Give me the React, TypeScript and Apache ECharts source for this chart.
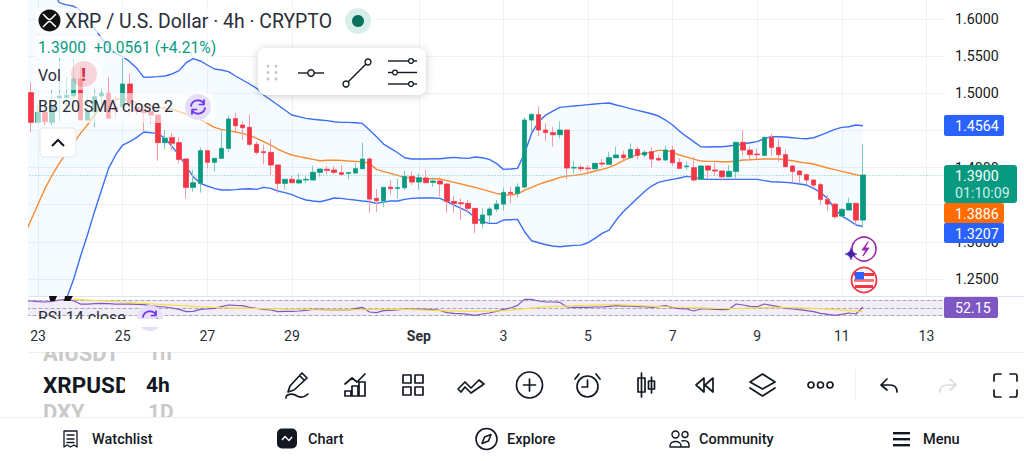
import { useEffect, useRef } from 'react';
import * as echarts from 'echarts';

// 4h bars. First bar sits two bars before Aug 23 00:00.
const opens = [
  1.5150, 1.5009, 1.4609, 1.4744, 1.4609, 1.4941, 1.4946, 1.4964, 1.5193, 1.4641,
  1.4753, 1.4964, 1.5000, 1.4811, 1.4820, 1.5125, 1.4811, 1.4775, 1.4753, 1.4708,
  1.4336, 1.4403, 1.4336, 1.4116, 1.3734, 1.3788, 1.4228, 1.4071, 1.4125, 1.4259,
  1.4659, 1.4573, 1.4542, 1.4313, 1.4214, 1.4205, 1.4035, 1.3788, 1.3842, 1.3793,
  1.3833, 1.3833, 1.3936, 1.3977, 1.3968, 1.3931, 1.3922, 1.3927, 1.3985, 1.4115,
  1.3586, 1.3550, 1.3738, 1.3720, 1.3729, 1.3882, 1.3806, 1.3859, 1.3801, 1.3819,
  1.3779, 1.3545, 1.3527, 1.3518, 1.3451, 1.3249, 1.3361, 1.3442, 1.3509, 1.3666,
  1.3653, 1.3738, 1.4640, 1.4712, 1.4506, 1.4470, 1.4443, 1.4506, 1.3994, 1.4003,
  1.3994, 1.3985, 1.4061, 1.4044, 1.4133, 1.4169, 1.4133, 1.4245, 1.4169, 1.4214,
  1.4124, 1.4102, 1.4236, 1.4070, 1.4012, 1.3999, 1.3841, 1.4021, 1.3967, 1.3954,
  1.3877, 1.3949, 1.4340, 1.4236, 1.4183, 1.4165, 1.4407, 1.4272, 1.4174, 1.4021,
  1.3954, 1.3904, 1.3833, 1.3770, 1.3572, 1.3509, 1.3348, 1.3429, 1.3518, 1.3294,
];
const closes = [
  1.5009, 1.4609, 1.4744, 1.4618, 1.4820, 1.4964, 1.4973, 1.5193, 1.4641, 1.4753,
  1.4955, 1.5000, 1.4663, 1.4775, 1.5125, 1.4865, 1.4766, 1.4739, 1.4708, 1.4336,
  1.4394, 1.4327, 1.4111, 1.3734, 1.3797, 1.4228, 1.4071, 1.4125, 1.4259, 1.4654,
  1.4564, 1.4537, 1.4313, 1.4205, 1.4201, 1.4035, 1.3788, 1.3842, 1.3797, 1.3833,
  1.3842, 1.3936, 1.3981, 1.3963, 1.3936, 1.3909, 1.3931, 1.3985, 1.4115, 1.3577,
  1.3554, 1.3734, 1.3716, 1.3729, 1.3882, 1.3806, 1.3864, 1.3797, 1.3819, 1.3779,
  1.3545, 1.3518, 1.3514, 1.3451, 1.3249, 1.3361, 1.3442, 1.3509, 1.3666, 1.3649,
  1.3738, 1.4640, 1.4716, 1.4506, 1.4470, 1.4443, 1.4506, 1.3994, 1.4003, 1.3985,
  1.3985, 1.4057, 1.4048, 1.4133, 1.4169, 1.4133, 1.4245, 1.4165, 1.4205, 1.4115,
  1.4102, 1.4236, 1.4066, 1.3990, 1.4021, 1.3833, 1.4021, 1.3967, 1.3954, 1.3877,
  1.3949, 1.4340, 1.4236, 1.4174, 1.4174, 1.4407, 1.4272, 1.4174, 1.4012, 1.3949,
  1.3904, 1.3833, 1.3765, 1.3572, 1.3509, 1.3339, 1.3438, 1.3518, 1.3294, 1.3900,
];
const lows = [
  1.4950, 1.4475, 1.4600, 1.4573, 1.4573, 1.4618, 1.4730, 1.4910, 1.4641, 1.4641,
  1.4542, 1.4775, 1.4650, 1.4677, 1.4820, 1.4708, 1.4708, 1.4484, 1.4587, 1.4093,
  1.4246, 1.4237, 1.4057, 1.3586, 1.3676, 1.3663, 1.3990, 1.3945, 1.4125, 1.4214,
  1.4497, 1.4371, 1.4282, 1.4178, 1.4044, 1.3900, 1.3654, 1.3707, 1.3788, 1.3788,
  1.3788, 1.3833, 1.3878, 1.3914, 1.3914, 1.3886, 1.3841, 1.3922, 1.3985, 1.3393,
  1.3406, 1.3465, 1.3631, 1.3581, 1.3698, 1.3765, 1.3698, 1.3788, 1.3743, 1.3608,
  1.3393, 1.3393, 1.3294, 1.3384, 1.3115, 1.3182, 1.3258, 1.3406, 1.3420, 1.3518,
  1.3599, 1.3720, 1.4483, 1.4425, 1.4357, 1.4281, 1.4393, 1.3841, 1.3922, 1.3945,
  1.3931, 1.3967, 1.4012, 1.4034, 1.4124, 1.4093, 1.4124, 1.4115, 1.4133, 1.4003,
  1.4088, 1.4088, 1.4021, 1.3990, 1.3967, 1.3810, 1.3841, 1.3855, 1.3886, 1.3824,
  1.3868, 1.3855, 1.4169, 1.4115, 1.4115, 1.4165, 1.4160, 1.4079, 1.4003, 1.3797,
  1.3788, 1.3779, 1.3734, 1.3496, 1.3420, 1.3312, 1.3339, 1.3429, 1.3227, 1.3195,
];
const highs = [
  1.5200, 1.5148, 1.4843, 1.4910, 1.5044, 1.5493, 1.5224, 1.5448, 1.5359, 1.4955,
  1.5080, 1.5080, 1.5215, 1.4955, 1.5484, 1.5260, 1.4820, 1.4820, 1.4798, 1.4708,
  1.4506, 1.4470, 1.4407, 1.4116, 1.3968, 1.4273, 1.4228, 1.4125, 1.4515, 1.4699,
  1.4739, 1.4618, 1.4717, 1.4349, 1.4313, 1.4380, 1.4035, 1.3842, 1.3887, 1.3923,
  1.3900, 1.4026, 1.3981, 1.4021, 1.4021, 1.4034, 1.3945, 1.4066, 1.4335, 1.4138,
  1.3711, 1.3734, 1.3833, 1.3855, 1.3958, 1.3945, 1.3922, 1.3967, 1.3868, 1.3868,
  1.3779, 1.3617, 1.3586, 1.3563, 1.3451, 1.3451, 1.3474, 1.3563, 1.3734, 1.3743,
  1.3788, 1.4676, 1.4730, 1.4829, 1.4595, 1.4550, 1.4618, 1.4506, 1.4088, 1.4034,
  1.4034, 1.4057, 1.4115, 1.4214, 1.4281, 1.4227, 1.4326, 1.4281, 1.4236, 1.4272,
  1.4169, 1.4295, 1.4295, 1.4124, 1.4079, 1.4147, 1.4034, 1.4034, 1.4079, 1.3967,
  1.4034, 1.4349, 1.4506, 1.4281, 1.4259, 1.4416, 1.4452, 1.4384, 1.4245, 1.4034,
  1.3967, 1.3922, 1.3841, 1.3797, 1.3631, 1.3509, 1.3451, 1.3599, 1.3527, 1.4317,
];

const bbUpper = [
  1.7000, 1.6900, 1.6750, 1.6600, 1.6400, 1.6220, 1.6190, 1.6175, 1.6112, 1.6009,
  1.5875, 1.5740, 1.5628, 1.5538, 1.5493, 1.5426, 1.5336, 1.5215, 1.5219, 1.5224,
  1.5233, 1.5260, 1.5305, 1.5412, 1.5466, 1.5435, 1.5381, 1.5327, 1.5314, 1.5291,
  1.5233, 1.5179, 1.5125, 1.5067, 1.4977, 1.4910, 1.4843, 1.4775, 1.4708, 1.4686,
  1.4663, 1.4650, 1.4641, 1.4632, 1.4618, 1.4609, 1.4609, 1.4604, 1.4595, 1.4506,
  1.4416, 1.4317, 1.4259, 1.4200, 1.4133, 1.4115, 1.4115, 1.4115, 1.4120, 1.4120,
  1.4129, 1.4138, 1.4129, 1.4124, 1.4142, 1.4133, 1.4111, 1.4057, 1.3976, 1.3981,
  1.3990, 1.4191, 1.4461, 1.4618, 1.4707, 1.4761, 1.4811, 1.4820, 1.4829, 1.4838,
  1.4847, 1.4856, 1.4865, 1.4869, 1.4842, 1.4820, 1.4793, 1.4770, 1.4748, 1.4725,
  1.4694, 1.4640, 1.4573, 1.4488, 1.4416, 1.4349, 1.4281, 1.4277, 1.4281, 1.4281,
  1.4290, 1.4304, 1.4317, 1.4335, 1.4349, 1.4389, 1.4416, 1.4416, 1.4411, 1.4402,
  1.4393, 1.4389, 1.4402, 1.4438, 1.4474, 1.4515, 1.4541, 1.4550, 1.4573, 1.4564,
];
const bbBasis = [
  1.3079, 1.3295, 1.3510, 1.3721, 1.3900, 1.4057, 1.4192, 1.4318, 1.4461, 1.4573,
  1.4708, 1.4829, 1.4887, 1.4919, 1.4928, 1.4901, 1.4865, 1.4838, 1.4820, 1.4807,
  1.4798, 1.4784, 1.4753, 1.4721, 1.4686, 1.4650, 1.4596, 1.4542, 1.4515, 1.4497,
  1.4479, 1.4461, 1.4430, 1.4394, 1.4349, 1.4304, 1.4250, 1.4205, 1.4170, 1.4147,
  1.4129, 1.4111, 1.4093, 1.4098, 1.4098, 1.4097, 1.4088, 1.4084, 1.4079, 1.4057,
  1.3976, 1.3945, 1.3922, 1.3895, 1.3868, 1.3864, 1.3855, 1.3850, 1.3850, 1.3846,
  1.3824, 1.3801, 1.3779, 1.3756, 1.3734, 1.3707, 1.3680, 1.3653, 1.3635, 1.3631,
  1.3644, 1.3698, 1.3734, 1.3774, 1.3806, 1.3833, 1.3868, 1.3886, 1.3895, 1.3909,
  1.3927, 1.3954, 1.3976, 1.4003, 1.4044, 1.4093, 1.4133, 1.4178, 1.4191, 1.4209,
  1.4232, 1.4232, 1.4205, 1.4169, 1.4142, 1.4115, 1.4088, 1.4084, 1.4084, 1.4079,
  1.4079, 1.4088, 1.4102, 1.4106, 1.4111, 1.4115, 1.4115, 1.4115, 1.4106, 1.4093,
  1.4075, 1.4061, 1.4048, 1.4021, 1.3994, 1.3972, 1.3949, 1.3927, 1.3904, 1.3886,
];
const bbLower = [
  1.1200, 1.1300, 1.1400, 1.1600, 1.1800, 1.2000, 1.2227, 1.2487, 1.2801, 1.3093,
  1.3407, 1.3698, 1.3990, 1.4170, 1.4304, 1.4349, 1.4407, 1.4479, 1.4470, 1.4457,
  1.4394, 1.4282, 1.4170, 1.4013, 1.3878, 1.3788, 1.3752, 1.3721, 1.3698, 1.3698,
  1.3703, 1.3712, 1.3716, 1.3707, 1.3734, 1.3721, 1.3685, 1.3663, 1.3636, 1.3595,
  1.3564, 1.3550, 1.3541, 1.3564, 1.3591, 1.3586, 1.3572, 1.3563, 1.3550, 1.3541,
  1.3518, 1.3536, 1.3550, 1.3550, 1.3572, 1.3586, 1.3590, 1.3590, 1.3590, 1.3586,
  1.3541, 1.3496, 1.3451, 1.3406, 1.3325, 1.3272, 1.3249, 1.3249, 1.3294, 1.3299,
  1.3303, 1.3137, 1.3016, 1.2989, 1.2962, 1.2944, 1.2935, 1.2944, 1.2953, 1.2957,
  1.2989, 1.3047, 1.3115, 1.3159, 1.3294, 1.3406, 1.3496, 1.3586, 1.3675, 1.3752,
  1.3801, 1.3824, 1.3841, 1.3860, 1.3882, 1.3868, 1.3850, 1.3841, 1.3841, 1.3841,
  1.3841, 1.3841, 1.3841, 1.3841, 1.3841, 1.3824, 1.3810, 1.3806, 1.3801, 1.3792,
  1.3779, 1.3765, 1.3720, 1.3662, 1.3586, 1.3442, 1.3348, 1.3294, 1.3227, 1.3207,
];

const rsi = [
  67.5, 67.5, 65.8, 65, 66.6, 70, 71.7, 68.3, 59.8, 59.8,
  60.7, 61.5, 60.7, 59.8, 59.8, 59.8, 59, 58.1, 55.6, 53,
  52.2, 49.7, 46.3, 40.3, 41.2, 46.3, 47.1, 48.8, 53, 57.3,
  56.4, 55.6, 51.4, 48.8, 46.3, 44.6, 40.3, 41.2, 41.2, 42,
  43.7, 46.3, 46.3, 45.4, 44.6, 44.6, 44.6, 48, 51.4, 39.5,
  37.8, 42.9, 43.7, 44.6, 47.1, 46.3, 47.1, 46.3, 45.4, 43.7,
  37.8, 36, 35.2, 33.5, 31, 34.4, 36.9, 41.2, 46.3, 49.6,
  56.4, 71.7, 71.7, 67.5, 65, 65, 64.1, 52.2, 51.4, 51.4,
  51.4, 52.2, 52.2, 53.9, 55.6, 54.7, 54.7, 53, 53, 51.4,
  53, 55.6, 50.5, 48, 47.1, 42, 47.1, 47.1, 46.3, 45.4,
  46.3, 59.8, 57.3, 53.9, 53, 59.8, 56.4, 53, 48.8, 47.1,
  45.4, 42.9, 40.3, 36, 33.5, 31, 33.5, 36.9, 34.4, 52.15,
];
// RSI moving average, it only starts at the seventh bar
const rsiMa = [
  '-', '-', '-', '-', '-', '-', '-', 71.7, 71, 70,
  69, 68.2, 67.3, 66.3, 65, 63.8, 62.6, 61.5, 60.5, 59.3,
  58.1, 57, 56, 55, 54, 52.5, 51.8, 51, 50.4, 50,
  49.6, 49.2, 48.8, 48.4, 47.9, 47.5, 47.2, 46.8, 46.5, 46.1,
  45.8, 45.4, 45.2, 45, 44.8, 44.9, 45.1, 45.3, 45.6, 45.8,
  46, 46.2, 46.3, 46.4, 46, 45.5, 45, 44.4, 43.8, 43.2,
  42.6, 42.2, 41.8, 41.4, 41.3, 41.5, 41.9, 42.5, 43.2, 44.2,
  46, 47.8, 49.5, 51.2, 52.8, 53.6, 54.2, 54.8, 55.4, 55.9,
  56.4, 56.9, 57.4, 57.9, 58.1, 57.4, 56.6, 55.8, 55, 54.3,
  53.6, 52.9, 52.2, 51.6, 51, 50.4, 49.8, 49.3, 48.8, 48.4,
  48, 48.4, 48.9, 49.4, 49.9, 50.3, 50.8, 51.2, 50.8, 50.3,
  49.8, 49.3, 48.7, 47.8, 46.7, 45.5, 44.2, 43, 41.6, 40.3,
];

const barCount = 131;
const dayLabels = ['23', '25', '27', '29', 'Sep', '3', '5', '7', '9', '11', '13'];
const dayLabelBars = [2, 14, 26, 38, 56, 68, 80, 92, 104, 116, 128];
const categories = Array.from({ length: barCount }, (_, i) => `bar${i}`);
const lastPrice = 1.39;
// these two sit fully behind price tags in the picture
const coveredTicks = ['1.3500', '1.4500'];

const GREEN = '#089981';
const RED = '#f23645';
const INK = '#131722';
const FONT = 'Roboto';

const icons: Record<string, string> = {
  pen: 'M17 1 L22 6 L9 18 L3 20 L5 14 Z M14.5 3.5 L19.5 8.5 M1 26 C0 22 8 21 12 24 C16 26 20 25 23 22',
  bars: 'M1 23 V18 H7 V23 Z M8 23 V13 H14 V23 Z M15 23 V9 H21 V23 Z M1 11 L8 5 L13 9 L21 1',
  tiles: 'M1 1 H9 V9 H1 Z M13 1 H21 V9 H13 Z M1 13 H9 V21 H1 Z M13 13 H21 V21 H13 Z',
  wave: 'M1 13 L8 6 L14 12 L22 4 L27 8 L14 17 L8 11 L4 16 Z',
  plus: 'M26 13 A13 13 0 1 1 0 13 A13 13 0 1 1 26 13 M13 7 V19 M7 13 H19',
  alarm: 'M24 13.5 A10.5 10.5 0 1 1 3 13.5 A10.5 10.5 0 1 1 24 13.5 M13.5 7 V14 H8 M1 6 L5 1 M26 6 L22 1',
  candles: 'M3.5 0 V24 M0 5 H7 V19 H0 Z M13.5 4 V20 M10.5 8 H16.5 V16 H10.5 Z',
  rewind: 'M9 1 L1 8 L9 15 Z M18 1 L10 8 L18 15 Z',
  layers: 'M13.5 1 L26 9 L13.5 16 L1 9 Z M1 15 L13.5 23 L26 15',
  dots: 'M6 3 A3 3 0 1 1 0 3 A3 3 0 1 1 6 3 M15.5 3 A3 3 0 1 1 9.5 3 A3 3 0 1 1 15.5 3 M25 3 A3 3 0 1 1 19 3 A3 3 0 1 1 25 3',
  undo: 'M7 1 L1 7 L7 12 M1 7 H10 C14 7 17 9 17 14',
  redo: 'M10 1 L16 7 L10 12 M16 7 H7 C3 7 0 9 0 14',
  frame: 'M1 8 V3 Q1 1 3 1 H8 M17 1 H22 Q24 1 24 3 V8 M24 17 V22 Q24 24 22 24 H17 M8 24 H3 Q1 24 1 22 V17',
  watch: 'M1 1 H14 V17 L11 15 L7.5 17 L4 15 L1 17 Z M4 5 H11 M4 9 H11 M4 12.5 H11',
  compass: 'M21 10.5 A10.5 10.5 0 1 1 0 10.5 A10.5 10.5 0 1 1 21 10.5 M15 6 L12.5 12.5 L6 15 L8.5 8.5 Z',
  people: 'M10 3.5 A3.5 3.5 0 1 1 3 3.5 A3.5 3.5 0 1 1 10 3.5 M19 3.5 A3 3 0 1 1 13 3.5 A3 3 0 1 1 19 3.5 M1 15 C1 9 12 9 12 15 V16 H1 Z M13 10 C16 9 20 10 20 14 V16 H12',
  xrp: 'M-6 -6 L-2 -2 Q0 0 2 -2 L6 -6 M-6 6 L-2 2 Q0 0 2 2 L6 6',
  spark: 'M0 -6 Q1 -1 6 0 Q1 1 0 6 Q-1 1 -6 0 Q-1 -1 0 -6 Z',
  bolt: 'M3 -7 L-3 1 H1 L-2 7 L4 -1 H0 Z',
  arrows: 'M-7 -1 A7 7 0 0 1 6 -3 M6 -7 V-2.5 H1.5 M7 1 A7 7 0 0 1 -6 3 M-6 7 V2.5 H-1.5',
};
Object.entries(icons).forEach(([name, d]) => {
  echarts.graphic.registerShape(name, echarts.graphic.extendPath(d, {}));
});

const rect = (x: number, y: number, width: number, height: number, fill: string, z: number, r = 0, extra = {}) => ({
  type: 'rect', silent: true, z, shape: { x, y, width, height, r }, style: { fill, ...extra },
});
const circle = (cx: number, cy: number, r: number, fill: string, z: number, extra = {}) => ({
  type: 'circle', silent: true, z, shape: { cx, cy, r }, style: { fill, ...extra },
});
const line = (x1: number, y1: number, x2: number, y2: number, stroke: string, z: number, lineWidth = 1) => ({
  type: 'line', silent: true, z, shape: { x1, y1, x2, y2 }, style: { stroke, lineWidth },
});
const label = (text: string, x: number, y: number, fontSize: number, fill: string, z: number, fontWeight: any = 400) => ({
  type: 'text', silent: true, z, x, y,
  style: { text, fontSize, fontWeight, fontFamily: FONT, fill, align: 'left', verticalAlign: 'middle' },
});
const icon = (name: string, x: number, y: number, z = 12, stroke = INK, lineWidth = 1.7, fill = 'none') => ({
  type: name, silent: true, z, x, y, style: { fill, stroke, lineWidth, lineJoin: 'round', lineCap: 'round' },
});

function buildGraphics() {
  return [
    // masks around the plot
    rect(0, 296, 1024, 24, '#fff', 5),
    rect(0, 0, 28, 345, '#fff', 7),
    line(28, 296.5, 1024, 296.5, '#dfe4f2', 7),
    { type: 'polygon', silent: true, z: 8, shape: { points: [[49, 296], [57, 296], [55, 301], [50, 301]] }, style: { fill: '#111' } },
    { type: 'polygon', silent: true, z: 8, shape: { points: [[65, 296], [73, 296], [70, 301], [64, 301]] }, style: { fill: '#111' } },

    // legend rows, washed out over the candles
    rect(36, 8, 340, 25, 'rgba(255,255,255,0.72)', 8),
    rect(36, 36, 184, 22, 'rgba(255,255,255,0.72)', 8),
    rect(36, 61, 66, 29, 'rgba(255,255,255,0.6)', 8),
    rect(36, 93, 178, 30, 'rgba(255,255,255,0.6)', 8),
    circle(49.5, 20.5, 11, '#111', 10),
    icon('xrp', 49.5, 20.5, 11, '#fff', 1.6),
    label('XRP / U.S. Dollar · 4h · CRYPTO', 65, 21, 19.4, '#2a2e39', 10),
    circle(358, 21, 13, '#d8efe9', 10),
    circle(358, 21, 6, '#0a6f5c', 11),
    label('1.3900', 38, 47.5, 15.6, GREEN, 10),
    label('+0.0561 (+4.21%)', 94, 47.5, 15.6, GREEN, 10),
    label('Vol', 38, 75, 16, '#2a2e39', 10),
    circle(84, 74, 13, 'rgba(242,54,69,0.2)', 10),
    label('!', 81, 74, 19, '#d32f3f', 11, 700),
    label('BB 20 SMA close 2', 38, 106.5, 16, '#2a2e39', 10),
    circle(198, 107, 13, '#e5def6', 10),
    icon('arrows', 198, 107, 11, '#6a35f0', 1.7),
    rect(40, 128, 36, 29, '#fff', 10, 4, { stroke: '#e4e6ec', lineWidth: 1 }),
    { type: 'polyline', silent: true, z: 11, shape: { points: [[52, 146], [58, 140], [64, 146]] }, style: { stroke: INK, lineWidth: 2, fill: 'none' } },

    // RSI legend, cut by the pane edge
    label('RSI 14 close', 38, 317, 16, '#2a2e39', 10),
    circle(150, 318, 13, '#e5def6', 10),
    icon('arrows', 150, 318, 11, '#6a35f0', 1.7),
    rect(28, 319, 200, 8, '#fff', 12),

    // floating drawing toolbar
    rect(258, 48, 168, 47, '#fff', 13, 8, { shadowBlur: 8, shadowColor: 'rgba(0,0,0,0.2)', shadowOffsetY: 1 }),
    ...[268, 276].flatMap((x) => [66, 72.5, 79].map((y) => circle(x, y, 1.5, '#c4c7cf', 14))),
    line(298, 73, 324, 73, INK, 14, 1.4),
    circle(311, 73, 3.2, '#fff', 15, { stroke: INK, lineWidth: 1.4 }),
    line(346, 84, 368, 62, INK, 14, 1.4),
    circle(346, 84, 3, '#fff', 15, { stroke: INK, lineWidth: 1.4 }),
    circle(368, 62, 3, '#fff', 15, { stroke: INK, lineWidth: 1.4 }),
    line(388, 61, 417, 61, INK, 14, 1.4),
    line(388, 72.5, 417, 72.5, INK, 14, 1.4),
    line(388, 84, 417, 84, INK, 14, 1.4),
    circle(411, 61, 2.4, '#fff', 15, { stroke: INK, lineWidth: 1.3 }),
    circle(395, 72.5, 2.4, '#fff', 15, { stroke: INK, lineWidth: 1.3 }),
    circle(411, 84, 2.4, '#fff', 15, { stroke: INK, lineWidth: 1.3 }),

    // price tags on the right scale
    rect(944, 115, 60, 21, '#2962ff', 20, 2),
    label('1.4564', 955, 126, 14.2, '#fff', 21),
    rect(944, 165, 73, 38, GREEN, 22, 3),
    label('1.3900', 955, 176, 14.2, '#fff', 23),
    label('01:10:09', 955, 193, 14.2, '#cfeee6', 23),
    rect(944, 203, 60, 20, '#ff6d00', 20, 2),
    label('1.3886', 955, 213.5, 14.2, '#fff', 21),
    rect(944, 223, 60, 20, '#2962ff', 20, 2),
    label('1.3207', 955, 234, 14.2, '#fff', 21),
    rect(944, 297, 54, 21, '#7e57c2', 20, 2),
    label('52.15', 955, 308, 14.2, '#fff', 21),

    // event markers under the last bar
    circle(864, 249, 12, '#fff', 12, { stroke: '#9c27b0', lineWidth: 1.6 }),
    icon('bolt', 865, 249, 13, '#9c27b0', 1, '#9c27b0'),
    icon('spark', 851, 254, 14, '#4a1fa8', 0.5, '#4a1fa8'),
    circle(864, 280, 12.5, '#fff', 12, { stroke: RED, lineWidth: 1.8 }),
    rect(854, 273, 20, 3, RED, 13),
    rect(854, 279, 20, 3, '#f77', 13),
    rect(855, 285, 18, 3, RED, 13),
    rect(855, 272, 9, 7.5, '#2962ff', 14),

    // symbol picker and tools row
    line(28, 352.5, 1024, 352.5, '#efefef', 9),
    label('AIUSDT', 43, 353, 22, '#c9c9c9', 10, 700),
    label('1h', 148, 353, 21, '#c9c9c9', 10, 700),
    rect(28, 342, 160, 10, '#fff', 11),
    label('XRPUSD', 43, 385, 22.5, INK, 10, 700),
    label('4h', 146, 385, 21, INK, 10, 700),
    label('DXY', 43, 412, 22, '#c9c9c9', 10, 700),
    label('1D', 148, 412, 21, '#c9c9c9', 10, 700),
    rect(125, 362, 18, 56, '#fff', 11),
    icon('pen', 285, 372),
    icon('bars', 344, 373),
    icon('tiles', 402, 374),
    icon('wave', 457, 376),
    icon('plus', 516.5, 372),
    icon('alarm', 574, 373),
    icon('candles', 638, 373),
    icon('rewind', 695, 377),
    icon('layers', 749, 373),
    icon('dots', 808, 382),
    line(855.5, 370, 855.5, 400, '#f0f0f0', 10),
    icon('undo', 880, 378),
    icon('redo', 940, 378, 12, '#dcdcdc'),
    icon('frame', 993, 373),

    // bottom navigation
    rect(0, 418, 1024, 43, '#fff', 11),
    line(0, 417.5, 1024, 417.5, '#efefef', 12),
    icon('watch', 63, 430, 13, INK, 1.3),
    label('Watchlist', 92, 439, 14.5, INK, 13, 500),
    rect(277, 428.5, 20, 20, INK, 13, 5),
    { type: 'polyline', silent: true, z: 14, shape: { points: [[282, 440], [285, 436.5], [289, 440.5], [292, 437]] }, style: { stroke: '#fff', lineWidth: 1.4, fill: 'none' } },
    label('Chart', 308, 439, 14.5, INK, 13, 500),
    icon('compass', 476, 428.5, 13, INK, 1.6),
    label('Explore', 507, 439, 14.5, INK, 13, 500),
    icon('people', 669, 431, 13, INK, 1.4),
    label('Community', 699, 439, 14.5, INK, 13, 500),
    rect(893, 432, 17, 2.4, INK, 13),
    rect(893, 438, 17, 2.4, INK, 13),
    rect(893, 444, 17, 2.4, INK, 13),
    label('Menu', 923, 439, 14.5, INK, 13, 500),
  ];
}

export default function App() {
  const chartRef = useRef<HTMLDivElement>(null);

  useEffect(() => {
    if (!chartRef.current) return;
    const chart = echarts.init(chartRef.current, undefined, { renderer: 'svg' });

    const isDayBar = (index: number) => dayLabelBars.includes(index);
    const wicks = opens.map((o, i) => [o, closes[i], lows[i], highs[i]]);
    const bodies = opens.map((o, i) => [o, closes[i], Math.min(o, closes[i]), Math.max(o, closes[i])]);
    const bandWidth = bbUpper.map((u, i) => u - bbLower[i]);

    const option: any = {
      animation: false,
      backgroundColor: '#fff',
      textStyle: { fontFamily: FONT },
      grid: [
        { left: 20.475, top: -18.15, width: 923.55, height: 334.35, outerBoundsMode: 'none' },
        { left: 20.475, top: 296.1, width: 923.55, height: 23.55, outerBoundsMode: 'none' },
      ],
      xAxis: [
        {
          type: 'category',
          data: categories,
          gridIndex: 0,
          axisLine: { show: false },
          axisTick: { show: false },
          axisLabel: { show: false },
          splitLine: { show: true, alignWithLabel: true, interval: isDayBar, lineStyle: { color: '#eef1f8', width: 1 } },
        },
        {
          type: 'category',
          data: categories,
          gridIndex: 1,
          axisLine: { show: false },
          axisTick: { show: false },
          axisLabel: {
            interval: isDayBar,
            margin: 9,
            fontSize: 14,
            fontFamily: FONT,
            color: '#2a2e39',
            formatter: (_: string, index: number) => {
              const text = dayLabels[dayLabelBars.indexOf(index)] ?? '';
              return text === 'Sep' ? '{month|Sep}' : text;
            },
            rich: { month: { fontSize: 14, fontWeight: 700, fontFamily: FONT, color: '#2a2e39' } },
          },
          splitLine: { show: false },
        },
      ],
      yAxis: [
        {
          type: 'value',
          gridIndex: 0,
          position: 'right',
          min: 1.2,
          max: 1.65,
          interval: 0.05,
          axisLine: { show: false },
          axisTick: { show: false },
          axisLabel: {
            margin: 11,
            fontSize: 14.2,
            fontFamily: FONT,
            color: INK,
            formatter: (v: number) =>
              v < 1.22 || v > 1.62 || coveredTicks.includes(v.toFixed(4)) ? '' : v.toFixed(4),
          },
          splitLine: { show: true, lineStyle: { color: '#eef1f8', width: 1 } },
        },
        {
          type: 'value',
          gridIndex: 1,
          min: 20,
          max: 80,
          show: false,
        },
      ],
      series: [
        {
          name: 'bandBase',
          type: 'line',
          data: bbLower,
          stack: 'bb',
          symbol: 'none',
          lineStyle: { width: 0 },
          z: 1,
        },
        {
          name: 'bandFill',
          type: 'line',
          data: bandWidth,
          stack: 'bb',
          symbol: 'none',
          lineStyle: { width: 0 },
          areaStyle: { color: 'rgba(33,150,243,0.055)' },
          z: 1,
        },
        { name: 'Upper', type: 'line', data: bbUpper, symbol: 'none', z: 2, lineStyle: { color: '#3d6ff5', width: 1.4 } },
        { name: 'Lower', type: 'line', data: bbLower, symbol: 'none', z: 2, lineStyle: { color: '#3d6ff5', width: 1.4 } },
        { name: 'Basis', type: 'line', data: bbBasis, symbol: 'none', z: 2, lineStyle: { color: '#f98a2f', width: 1.4 } },
        {
          name: 'wicks',
          type: 'candlestick',
          data: wicks,
          barWidth: 5,
          z: 3,
          itemStyle: { color: '#7fcbbb', color0: '#f79aa3', borderColor: '#7fcbbb', borderColor0: '#f79aa3', borderWidth: 1 },
          markLine: {
            silent: true,
            symbol: 'none',
            z: 3,
            label: { show: false },
            lineStyle: { color: '#7cc9b8', type: [1, 2], width: 1 },
            data: [{ yAxis: lastPrice }],
          },
        },
        {
          name: 'bodies',
          type: 'candlestick',
          data: bodies,
          barWidth: 5,
          z: 4,
          itemStyle: { color: GREEN, color0: RED, borderColor: GREEN, borderColor0: RED, borderWidth: 0.5 },
        },
        {
          name: 'RSI',
          type: 'line',
          data: rsi,
          xAxisIndex: 1,
          yAxisIndex: 1,
          symbol: 'none',
          z: 6,
          lineStyle: { color: '#7e57c2', width: 1.2 },
          markArea: {
            silent: true,
            z: 6,
            itemStyle: { color: 'rgba(126,87,194,0.1)' },
            data: [[{ yAxis: 70 }, { yAxis: 30 }]],
          },
          markLine: {
            silent: true,
            symbol: 'none',
            z: 6,
            label: { show: false },
            lineStyle: { color: '#a6a8b0', type: 'dashed', width: 1 },
            data: [{ yAxis: 70 }, { yAxis: 50 }, { yAxis: 30 }],
          },
        },
        {
          name: 'RSI MA',
          type: 'line',
          data: rsiMa,
          xAxisIndex: 1,
          yAxisIndex: 1,
          symbol: 'none',
          z: 6,
          lineStyle: { color: '#fbdc3c', width: 1.2 },
        },
      ],
      graphic: { elements: buildGraphics() },
    };

    chart.setOption(option);

    return () => {
      chart.dispose();
    };
  }, []);

  return (
    <div
      ref={chartRef}
      style={{ position: 'absolute', left: 0, top: 0, width: 1024, height: 461, overflow: 'hidden' }}
    />
  );
}
